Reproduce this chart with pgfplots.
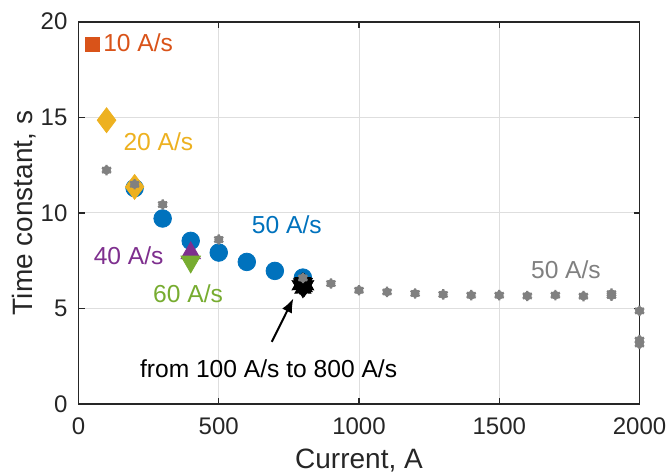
\documentclass[border=0pt]{standalone}
\usepackage{fontspec}
\setmainfont{Liberation Sans}
\usepackage{pgfplots}
\usepackage{pgfplotstable}
\pgfplotsset{compat=1.18}
\usetikzlibrary{arrows.meta}
\definecolor{mOrange}{rgb}{0.850,0.325,0.098}
\definecolor{mYellow}{rgb}{0.929,0.694,0.125}
\definecolor{mBlue}{rgb}{0,0.447,0.741}
\definecolor{mPurple}{rgb}{0.494,0.184,0.556}
\definecolor{mGreen}{rgb}{0.466,0.674,0.188}
\definecolor{mGray}{rgb}{0.5,0.5,0.5}
\definecolor{axgray}{rgb}{0.15,0.15,0.15}
\definecolor{gridgray}{rgb}{0.87,0.87,0.87}

\pgfdeclareplotmark{hexagram}{%
  \pgfpathmoveto{\pgfpointpolar{90}{\pgfplotmarksize}}%
  \pgfpathlineto{\pgfpointpolar{120}{0.577\pgfplotmarksize}}%
  \pgfpathlineto{\pgfpointpolar{150}{\pgfplotmarksize}}%
  \pgfpathlineto{\pgfpointpolar{180}{0.577\pgfplotmarksize}}%
  \pgfpathlineto{\pgfpointpolar{210}{\pgfplotmarksize}}%
  \pgfpathlineto{\pgfpointpolar{240}{0.577\pgfplotmarksize}}%
  \pgfpathlineto{\pgfpointpolar{270}{\pgfplotmarksize}}%
  \pgfpathlineto{\pgfpointpolar{300}{0.577\pgfplotmarksize}}%
  \pgfpathlineto{\pgfpointpolar{330}{\pgfplotmarksize}}%
  \pgfpathlineto{\pgfpointpolar{0}{0.577\pgfplotmarksize}}%
  \pgfpathlineto{\pgfpointpolar{30}{\pgfplotmarksize}}%
  \pgfpathlineto{\pgfpointpolar{60}{0.577\pgfplotmarksize}}%
  \pgfpathclose
  \pgfusepathqfillstroke}

\pgfplotstableread{
x y
100 12.24
200 11.50
300 10.44
500 8.61
800 6.60
900 6.31
1000 5.96
1100 5.87
1200 5.79
1300 5.74
1400 5.70
1500 5.70
1600 5.66
1700 5.70
1800 5.65
1900 5.68
1900 5.78
2000 4.88
2000 3.15
2000 3.35
}\grayData

\pgfplotstableread{
x y
200 11.30
300 9.71
400 8.54
500 7.93
600 7.44
700 6.97
800 6.62
}\blueData

\pgfplotstableread{
x y
790 6.22
800 6.38
810 6.22
800 6.05
795 6.32
805 6.12
800 6.25
805 6.33
}\starData

\begin{document}
\begin{tikzpicture}
\useasboundingbox (-39.25pt,-34pt) rectangle (294.25pt,202.1pt);
\begin{axis}[
  scale only axis,
  width=280.5pt, height=191.25pt,
  xmin=0, xmax=2000, ymin=0, ymax=20,
  xtick={0,500,1000,1500,2000},
  ytick={0,5,10,15,20},
  grid=major,
  major grid style={line width=0.5pt, draw=gridgray},
  tick align=inside,
  major tick length=3pt,
  every tick/.style={axgray, line width=0.6pt},
  axis line style={axgray, line width=0.8pt},
  tick label style={font=\fontsize{12}{14}\selectfont, text=axgray},
  /pgf/number format/assume math mode=true,
  /pgf/number format/1000 sep={},
  scaled ticks=false,
  xticklabel style={yshift=-3pt},
  yticklabel style={xshift=-2pt},
  label style={font=\fontsize{14}{16}\selectfont, text=axgray},
  xlabel={Current, A},
  ylabel={Time constant, s},
  xlabel style={at={(axis description cs:0.5,-0.1673)}, anchor=base},
  ylabel style={at={(axis description cs:-0.0816,0.5)}, anchor=base},
  clip=false,
  axis on top=false,
]
% 50 A/s blue circles
\addplot[only marks, mark=*, mark size=4.4pt, mark options={draw=mBlue, fill=mBlue}] table[x=x,y=y] {\blueData};
% 10 A/s
\addplot[only marks, mark=square*, mark size=3.6pt, mark options={draw=mOrange, fill=mOrange}] coordinates {(50,18.8)};
% 20 A/s
\addplot[only marks, mark=diamond*, mark size=6.2pt, mark options={draw=mYellow, fill=mYellow}] coordinates {(100,14.85) (200,11.36)};
% 40 A/s
\addplot[only marks, mark=triangle*, mark size=5.6pt, mark options={draw=mPurple, fill=mPurple}] coordinates {(400,7.90)};
% 60 A/s
\addplot[only marks, mark=triangle*, mark size=5.6pt, mark options={draw=mGreen, fill=mGreen, rotate=180}] coordinates {(400,7.45)};
% 100 to 800 A/s at 800 A
\addplot[only marks, mark=hexagram, mark size=4.6pt, mark options={draw=black, fill=black}] table[x=x,y=y] {\starData};
% 50 A/s gray
\addplot[only marks, mark=*, mark size=2.0pt, mark options={draw=mGray, fill=mGray}] table[x=x,y=y] {\grayData};
\addplot[only marks, mark=asterisk, mark size=2.6pt, mark options={draw=mGray, line width=1.1pt}] table[x=x,y=y] {\grayData};

\begin{scope}[every node/.style={font=\fontsize{12.3}{14}\selectfont, inner sep=0pt, anchor=west}]
\node[text=mOrange] at (axis cs:87,18.88) {10 A/s};
\node[text=mYellow] at (axis cs:159,13.75) {20 A/s};
\node[text=mBlue] at (axis cs:617,9.41) {50 A/s};
\node[text=mPurple] at (axis cs:53,7.76) {40 A/s};
\node[text=mGreen] at (axis cs:265,5.79) {60 A/s};
\node[text=mGray] at (axis cs:1612,7.02) {50 A/s};
\node[text=black] at (axis cs:218,1.86) {from 100 A/s to 800 A/s};
\end{scope}
\draw[-{Latex[length=7pt,width=5.5pt]}, line width=1pt, black] (axis cs:689,3.26) -- (axis cs:766,5.53);
\end{axis}
\end{tikzpicture}
\end{document}
